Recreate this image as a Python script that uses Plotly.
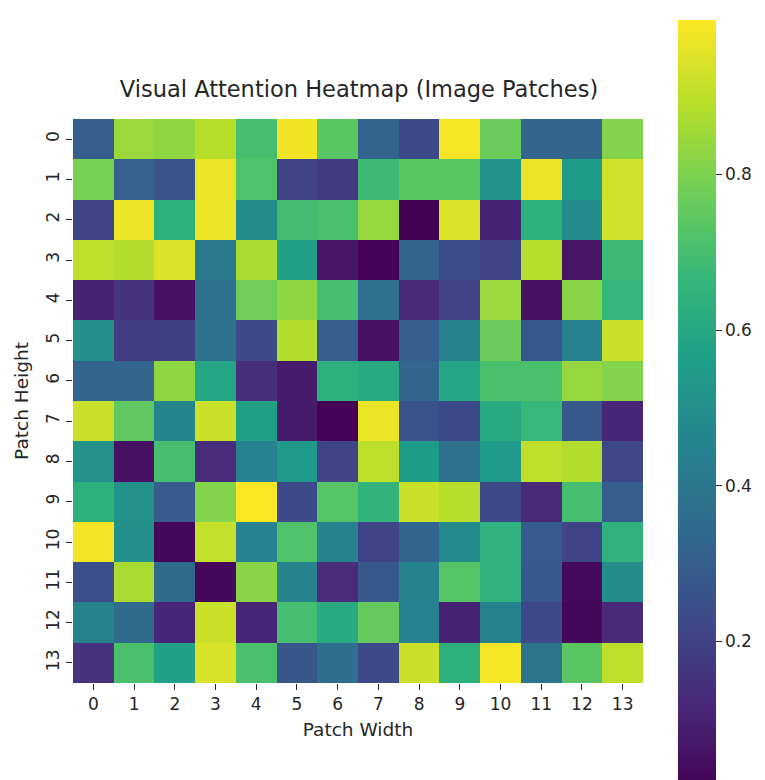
import plotly.graph_objects as go

cols = list(range(14))
rows = list(range(14))
tick_labels = [str(i) for i in range(14)]

row_0 = [0.30, 0.85, 0.83, 0.89, 0.70, 0.98, 0.74, 0.32, 0.23, 0.99, 0.77, 0.33, 0.33, 0.81]
row_1 = [0.79, 0.31, 0.26, 0.97, 0.72, 0.21, 0.17, 0.68, 0.74, 0.74, 0.52, 0.97, 0.55, 0.93]
row_2 = [0.21, 0.97, 0.63, 0.97, 0.49, 0.69, 0.71, 0.84, 0.004, 0.95, 0.10, 0.63, 0.48, 0.93]
row_3 = [0.90, 0.88, 0.95, 0.41, 0.87, 0.57, 0.06, 0.01, 0.32, 0.24, 0.21, 0.89, 0.06, 0.68]
row_4 = [0.10, 0.15, 0.05, 0.38, 0.78, 0.83, 0.70, 0.37, 0.12, 0.20, 0.85, 0.05, 0.82, 0.66]
row_5 = [0.50, 0.18, 0.19, 0.38, 0.23, 0.88, 0.30, 0.05, 0.30, 0.45, 0.77, 0.28, 0.44, 0.92]
row_6 = [0.33, 0.33, 0.83, 0.59, 0.14, 0.08, 0.63, 0.61, 0.33, 0.59, 0.71, 0.71, 0.84, 0.81]
row_7 = [0.92, 0.75, 0.46, 0.92, 0.57, 0.08, 0.01, 0.97, 0.26, 0.23, 0.61, 0.67, 0.28, 0.11]
row_8 = [0.51, 0.05, 0.70, 0.13, 0.44, 0.54, 0.21, 0.90, 0.55, 0.37, 0.54, 0.90, 0.88, 0.22]
row_9 = [0.63, 0.51, 0.29, 0.81, 0.999, 0.23, 0.73, 0.65, 0.92, 0.89, 0.23, 0.12, 0.70, 0.30]
row_10 = [0.985, 0.50, 0.02, 0.91, 0.44, 0.72, 0.45, 0.21, 0.33, 0.48, 0.64, 0.29, 0.21, 0.64]
row_11 = [0.25, 0.87, 0.35, 0.02, 0.82, 0.45, 0.13, 0.28, 0.45, 0.73, 0.64, 0.28, 0.03, 0.49]
row_12 = [0.45, 0.35, 0.11, 0.92, 0.11, 0.70, 0.61, 0.76, 0.44, 0.10, 0.45, 0.23, 0.02, 0.12]
row_13 = [0.15, 0.71, 0.57, 0.94, 0.71, 0.27, 0.36, 0.23, 0.92, 0.63, 0.99, 0.39, 0.74, 0.90]

z = [row_0, row_1, row_2, row_3, row_4, row_5, row_6, row_7,
     row_8, row_9, row_10, row_11, row_12, row_13]

# page body has an 8px margin; figure is sized so it ends at the window edge
OFF = 8
W, H = 765 - OFF, 780 - OFF
L, R, T, B = 73.3 - OFF, 646.7 - OFF, 109.3 - OFF, 682.7 - OFF
pw = R - L
ph = B - T

zmin = min(min(r) for r in z)
zmax = max(max(r) for r in z)
px_per_unit = 778.0
cb_len = (zmax - zmin) * px_per_unit
cb_top = 8.3 - OFF

TXT = "#262626"

fig = go.Figure(go.Heatmap(
    z=z, x=cols, y=rows, colorscale="Viridis",
    colorbar=dict(
        thickness=37.5, thicknessmode="pixels",
        len=cb_len, lenmode="pixels",
        x=(682 - OFF - L) / pw, xanchor="left", xpad=0,
        y=(B - cb_top) / ph, yanchor="top", ypad=0,
        outlinewidth=0,
        tickvals=[0.2, 0.4, 0.6, 0.8],
        ticktext=["0.2", "0.4", "0.6", "0.8"],
        ticks="outside", ticklen=6, tickcolor=TXT,
        tickfont=dict(family="DejaVu Sans", size=17, color=TXT),
    ),
))

fig.update_layout(
    width=W, height=H,
    margin=dict(l=L, r=W - R, t=T, b=H - B, pad=0),
    paper_bgcolor="white", plot_bgcolor="white",
    font=dict(family="DejaVu Sans", size=17, color=TXT),
    title=dict(text="Visual Attention Heatmap (Image Patches)",
               x=(359 - OFF) / W, xanchor="center",
               y=1 - (89 - OFF) / H, yanchor="middle",
               font=dict(size=22.5, family="DejaVu Sans", color=TXT)),
)
fig.update_xaxes(
    tickmode="array", tickvals=cols, ticktext=tick_labels,
    ticks="outside", ticklen=6, tickcolor=TXT,
    showgrid=False, zeroline=False, showline=False,
    range=[-0.5, 13.5],
    title=dict(text="Patch Width", font=dict(size=18.5, color=TXT), standoff=9),
    tickfont=dict(size=17, color=TXT),
)
fig.update_yaxes(
    tickmode="array", tickvals=rows, ticktext=tick_labels,
    ticks="outside", ticklen=6, tickcolor=TXT, tickangle=-90,
    showgrid=False, zeroline=False, showline=False,
    range=[13.5, -0.5],
    title=dict(text="Patch Height", font=dict(size=18.5, color=TXT), standoff=9),
    tickfont=dict(size=17, color=TXT),
)

fig.write_html("out.html")
